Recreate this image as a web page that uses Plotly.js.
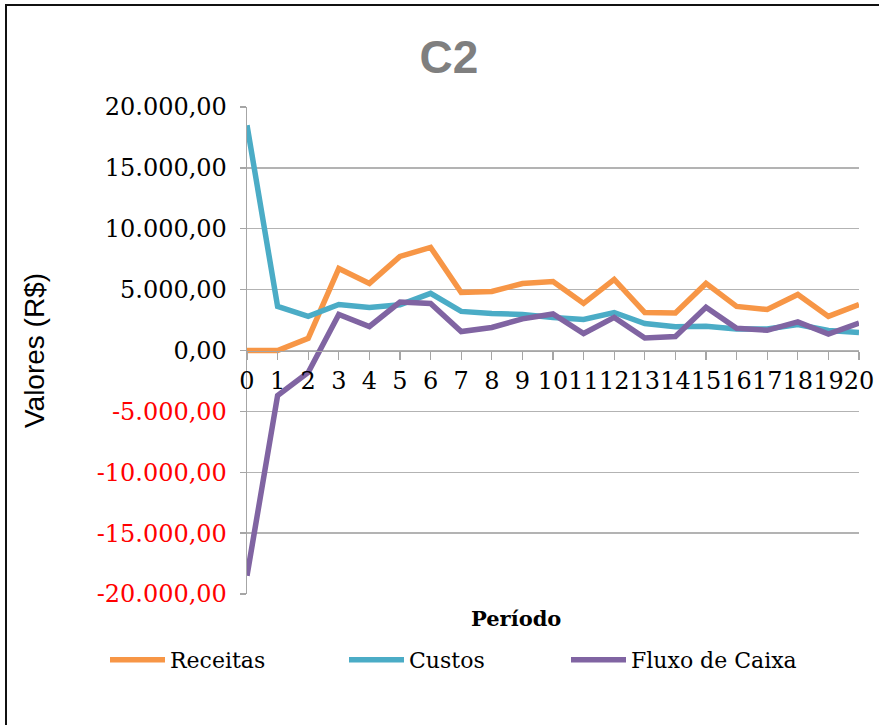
<!DOCTYPE html>
<html>
<head>
<meta charset="utf-8">
<script src="https://cdn.plot.ly/plotly-3.0.1.min.js"></script>
<style>
html,body{margin:0;padding:0;background:#fff;overflow:hidden;}
#chart{position:absolute;left:0;top:0;width:879px;height:725px;}
#frame{position:absolute;left:5px;top:4px;width:900px;height:800px;border:2px solid #111;pointer-events:none;}
</style>
</head>
<body>
<div id="chart"></div>
<div id="frame"></div>
<script>
const periodos = [0,1,2,3,4,5,6,7,8,9,10,11,12,13,14,15,16,17,18,19,20];
const receitas = [0,0,1000,6740,5510,7730,8470,4770,4850,5500,5670,3870,5840,3120,3080,5510,3620,3370,4600,2800,3780];
const custos = [18500,3620,2800,3780,3540,3750,4690,3210,3040,2960,2710,2550,3120,2220,1950,2000,1760,1760,2140,1640,1480];
const fluxo = [-18500,-3700,-1800,2960,1970,3980,3870,1560,1890,2600,3000,1400,2720,1020,1150,3550,1830,1660,2350,1350,2250];
const yTicks = [-20000,-15000,-10000,-5000,0,5000,10000,15000,20000];
const yTickText = ['-20.000,00','-15.000,00','-10.000,00','-5.000,00','0,00','5.000,00','10.000,00','15.000,00','20.000,00'];

const serif = 'DejaVu Serif';
const ticktext = yTicks.map((v,i)=> v<0 ? '<span style="color:#ff0000">'+yTickText[i]+'</span>' : yTickText[i]);

const traces = [
  {x:periodos, y:receitas, name:'Receitas', type:'scatter', mode:'lines', line:{color:'#F79646', width:5.5}, legend:'legend'},
  {x:periodos, y:custos, name:'Custos', type:'scatter', mode:'lines', line:{color:'#4BACC6', width:5.5}, legend:'legend2'},
  {x:periodos, y:fluxo, name:'Fluxo de Caixa', type:'scatter', mode:'lines', line:{color:'#8064A2', width:5.5}, legend:'legend3'}
];

const legBase = {orientation:'h', xref:'container', yref:'container', yanchor:'middle', xanchor:'left', y:1-660/725,
  font:{family:serif, size:22, color:'#000'}, itemwidth:55, bgcolor:'rgba(0,0,0,0)'};

const layout = {
  width:879, height:725,
  margin:{l:247, r:20, t:107, b:131},
  paper_bgcolor:'#fff', plot_bgcolor:'#fff',
  showlegend:true,
  title:{text:'<b>C2</b>', font:{family:'Liberation Sans, Arial', size:46, color:'#7f7f7f'}, x:449/879, xanchor:'center', xref:'container', yref:'container', y:1-57/725, yanchor:'middle'},
  xaxis:{range:[0,20], tickmode:'array', tickvals:periodos, ticktext:periodos.map(String), tickangle:0,
    anchor:'free', position:0.5, showline:true, linecolor:'#a6a6a6', linewidth:1.3,
    ticks:'outside', ticklen:8, tickcolor:'#a6a6a6', tickwidth:1.3, showgrid:false, zeroline:false,
    tickfont:{family:serif, size:24, color:'#000'}, fixedrange:true},
  yaxis:{range:[-20000,20000], tickmode:'array', tickvals:yTicks, ticktext:ticktext,
    showline:true, linecolor:'#a6a6a6', linewidth:1.3, ticks:'outside', ticklen:6, tickcolor:'#a6a6a6', tickwidth:1.3,
    showgrid:true, gridcolor:'#b3b3b3', gridwidth:1.3, zeroline:false, ticklabelstandoff:8,
    tickfont:{family:serif, size:24, color:'#000'},
    title:{text:'Valores (R$)', font:{family:'Liberation Sans, Arial', size:28, color:'#000'}, standoff:43}},
  legend:Object.assign({}, legBase, {x:105/879}),
  legend2:Object.assign({}, legBase, {x:344/879}),
  legend3:Object.assign({}, legBase, {x:566/879}),
  annotations:[{text:'<b>Período</b>', xref:'paper', yref:'paper', x:(516-247)/612, y:(594-618)/487, xanchor:'center', yanchor:'middle', showarrow:false, font:{family:serif, size:21, color:'#000'}}]
};

Plotly.newPlot('chart', traces, layout, {displayModeBar:false, staticPlot:true});
</script>
</body>
</html>
